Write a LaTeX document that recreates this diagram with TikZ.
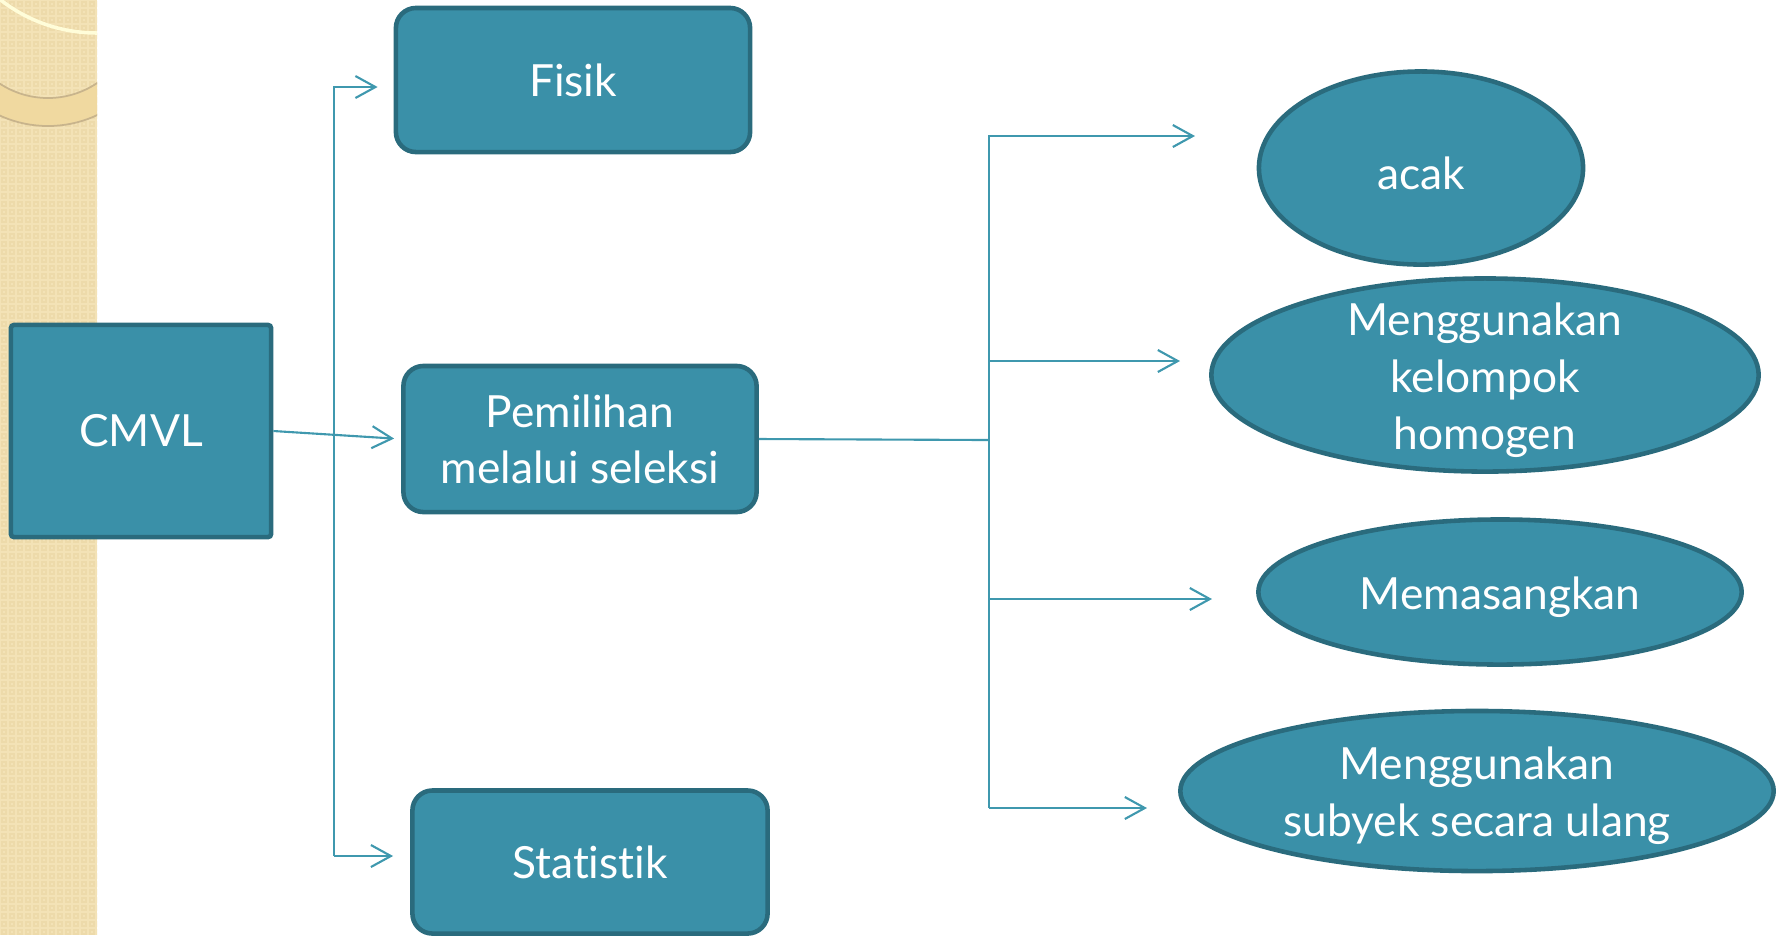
\documentclass[tikz,border=0pt]{standalone}
\usepackage{fontspec}
\setmainfont{Lato}[Ligatures=NoCommon]
\usetikzlibrary{arrows.meta,shapes.geometric}

\definecolor{tealfill}{HTML}{3A90A8}
\definecolor{tealline}{HTML}{2A6B7D}
\definecolor{connline}{HTML}{3F98AE}
\definecolor{stripbg}{HTML}{F3E2B6}
\definecolor{stripdot}{HTML}{EDDAAA}
\definecolor{ringbg}{HTML}{F0D9A0}
\definecolor{ringedge}{HTML}{C8B48C}

\tikzset{
  box/.style={draw=tealline, fill=tealfill, line width=1.3pt,
    rounded corners=0.2cm, text=white, align=center,
    font=\fontsize{12.6}{16}\selectfont},
  oval/.style={ellipse, draw=tealline, fill=tealfill, line width=1.3pt,
    inner sep=0pt},
  ovaltext/.style={text=white, align=center, yshift=-0.05cm,
    font=\fontsize{12.6}{16.2}\selectfont},
  bus/.style={draw=connline, line width=0.6pt},
  conn/.style={bus, -{Straight Barb[length=0.2cm,width=0.22cm]}},
}

\begin{document}
\begin{tikzpicture}[x=0.01cm, y=-0.01cm]

  \useasboundingbox (0,0) rectangle (1779,935);

  % slide strip
  \begin{scope}
    \clip (0,0) rectangle (97,935);
    \fill[stripbg] (0,0) rectangle (97,935);
    \foreach \i in {0,1,...,12}
    \foreach \j in {0,1,...,117}
    \draw[stripdot, line width=0.4pt] (8*\i+2,8*\j+2) rectangle +(4,4);
    \fill[ringbg, even odd rule] (48,10) circle (116) (48,10) circle (88);
    \draw[ringedge, line width=0.5pt] (48,10) circle (116);
    \draw[ringedge, line width=0.5pt] (48,10) circle (88);
    \draw[white!85!yellow, line width=1pt] (97,-124) circle (157);
  \end{scope}

  % boxes
  \node[box, rounded corners=0.03cm, minimum width=2.6cm,
    minimum height=2.12cm] (cmvl) at (141,431) {CMVL};
  \node[box, minimum width=3.54cm, minimum height=1.44cm]
    (fisik) at (573,80) {Fisik};
  \node[box, minimum width=3.53cm, minimum height=1.46cm]
    (seleksi) at (580,439) {Pemilihan\\melalui seleksi};
  \node[box, minimum width=3.55cm, minimum height=1.43cm]
    (statistik) at (590,862) {Statistik};

  % ellipses
  \node[oval, minimum width=3.24cm, minimum height=1.93cm,
    label={[ovaltext]center:acak}] (acak) at (1421,168) {};
  \node[oval, minimum width=5.47cm, minimum height=1.93cm,
    label={[ovaltext]center:Menggunakan\\kelompok\\homogen}]
    (homogen) at (1485,375) {};
  \node[oval, minimum width=4.83cm, minimum height=1.45cm,
    label={[ovaltext]center:Memasangkan}] (pasang) at (1500,592) {};
  \node[oval, minimum width=5.93cm, minimum height=1.6cm,
    label={[ovaltext]center:Menggunakan\\subyek secara ulang}]
    (ulang) at (1477,791) {};

  % left bus
  \coordinate (lbtop) at (334,87);
  \coordinate (lbbot) at (334,856);
  \draw[conn, shorten >=0.16cm] (lbbot) -- (lbtop) -- (lbtop -| fisik.west);
  \draw[conn, shorten >=0.17cm] (lbbot) -- (lbbot -| statistik.west);
  \draw[conn, shorten >=0.07cm] (cmvl.east) -- (seleksi.west);

  % right bus
  \coordinate (rbmid) at (989,440);
  \coordinate (rbtop) at (989,136);
  \coordinate (rbtwo) at (989,361);
  \coordinate (rbthree) at (989,599);
  \coordinate (rbbot) at (989,808);
  \coordinate (tacak) at (1195,136);
  \coordinate (thomogen) at (1180,361);
  \coordinate (tpasang) at (1212,599);
  \coordinate (tulang) at (1147,808);
  \draw[bus] (seleksi.east) -- (rbmid);
  \draw[conn] (rbbot) -- (rbtop) -- (tacak);
  \draw[conn] (rbtwo) -- (thomogen);
  \draw[conn] (rbthree) -- (tpasang);
  \draw[conn] (rbbot) -- (tulang);

\end{tikzpicture}
\end{document}
